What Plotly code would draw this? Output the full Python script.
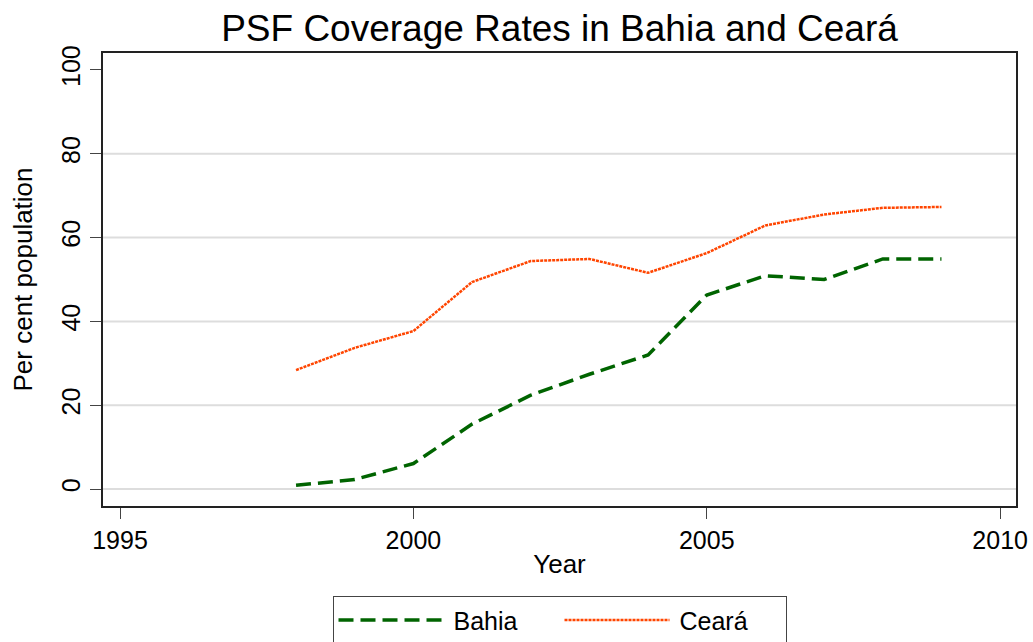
import plotly.graph_objects as go

years = [1998, 1999, 2000, 2001, 2002, 2003, 2004, 2005, 2006, 2007, 2008, 2009]
bahia = [0.9, 2.3, 6.1, 15.5, 22.4, 27.4, 32.0, 46.3, 50.9, 50.0, 54.9, 54.9]
ceara = [28.4, 33.7, 37.7, 49.4, 54.4, 54.9, 51.6, 56.3, 62.9, 65.5, 67.1, 67.3]

x_ticks = [1995, 2000, 2005, 2010]
y_ticks = [0, 20, 40, 60, 80, 100]
grid_vals = [0, 20, 40, 60, 80]

FONT = "Liberation Sans, Arial, sans-serif"

fig = go.Figure()
fig.add_trace(go.Scatter(
    x=years, y=bahia, mode="lines", name="\u2009Bahia",
    line=dict(color="#006400", width=3.5, dash="15px,7px"),
))
fig.add_trace(go.Scatter(
    x=years, y=ceara, mode="lines", name="\u2009Ceará",
    line=dict(color="#FF4500", width=2.5, dash="3px,1px"),
))

for g in grid_vals:
    fig.add_shape(type="line", xref="paper", x0=0, x1=1, yref="y", y0=g, y1=g,
                  line=dict(color="#DDDDDD", width=2), layer="below")

fig.update_layout(
    width=1033, height=642,
    margin=dict(l=103, r=17, t=53, b=136, autoexpand=False),
    paper_bgcolor="white", plot_bgcolor="white",
    font=dict(family=FONT, color="black", size=25),
    title=dict(text="PSF Coverage Rates in Bahia and Ceará", xref="paper", x=0.5,
               xanchor="center", yref="container", y=0.956, yanchor="middle",
               font=dict(size=37, color="black")),
    showlegend=True,
    legend=dict(orientation="h", x=0.5, xanchor="center", y=-0.199, yanchor="top",
                bordercolor="#444444", borderwidth=1, bgcolor="white",
                font=dict(size=25), itemwidth=105, entrywidth=106,
                traceorder="normal"),
)
fig.update_xaxes(
    range=[1994.71, 2010.27], tickvals=x_ticks, ticktext=[str(v) for v in x_ticks],
    automargin=False,
    showgrid=False, zeroline=False, showline=True, linecolor="#222222", linewidth=1.5,
    mirror=True, ticks="outside", ticklen=11, tickcolor="#444444", tickwidth=1,
    tickfont=dict(size=25),
    title=dict(text="Year", font=dict(size=26), standoff=2),
)
fig.update_yaxes(
    range=[-4.03, 104.03], tickvals=y_ticks, ticktext=[str(v) for v in y_ticks],
    tickangle=-90, automargin=False,
    showgrid=False, zeroline=False, showline=True, linecolor="#222222", linewidth=1.5,
    mirror=True, ticks="outside", ticklen=11, tickcolor="#444444", tickwidth=1,
    tickfont=dict(size=25),
    title=dict(text="Per cent population", font=dict(size=26), standoff=17),
)

fig.write_html("out.html", config={"displayModeBar": False},
               post_script="document.body.style.margin='0';")
